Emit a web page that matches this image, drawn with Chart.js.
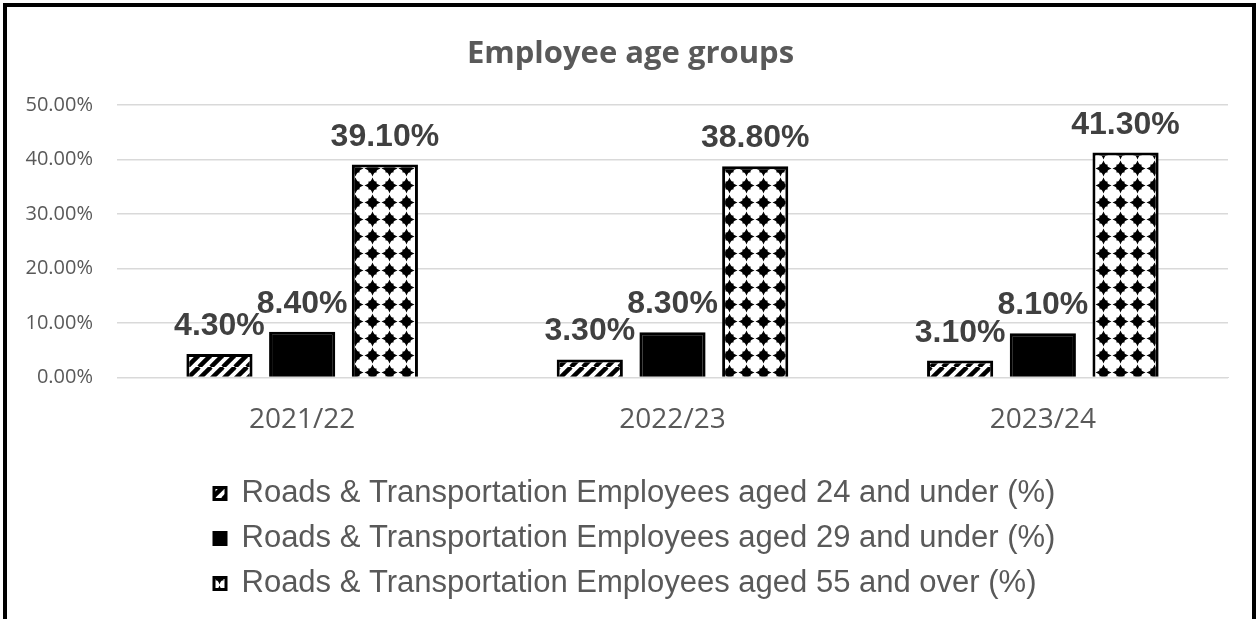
<!DOCTYPE html>
<html>
<head>
<meta charset="utf-8">
<script src="https://cdn.jsdelivr.net/npm/chart.js@4/dist/chart.umd.min.js"></script>
<style>
  body { margin: 0; background: #fff; }
  #frame {
    position: absolute; left: 3px; top: 3px;
    width: 1245px; height: 616px;
    border: 4px solid #000; border-bottom: none;
  }
  #wrap { position: relative; width: 1245px; height: 612px; }
</style>
</head>
<body>
<div id="frame"><div id="wrap"><canvas id="ageChart"></canvas></div></div>
<script>
const years = ['2021/22', '2022/23', '2023/24'];
const seriesNames = [
    'Roads & Transportation Employees aged 24 and under (%)',
    'Roads & Transportation Employees aged 29 and under (%)',
    'Roads & Transportation Employees aged 55 and over (%)'
];
const under24 = [4.3, 3.3, 3.1];
const under29 = [8.4, 8.3, 8.1];
const over55 = [39.1, 38.8, 41.3];
const yTicks = [0, 10, 20, 30, 40, 50];

// motifs de remplissage des barres
function stripePattern() {
    const c = document.createElement('canvas');
    c.width = 12; c.height = 12;
    const g = c.getContext('2d');
    g.fillStyle = '#fff';
    g.fillRect(0, 0, 12, 12);
    g.strokeStyle = '#000';
    g.lineWidth = 4.5;
    for (let x0 = -12; x0 <= 12; x0 += 12) {
        g.beginPath();
        g.moveTo(x0, 12);
        g.lineTo(x0 + 12, 0);
        g.stroke();
    }
    return g.createPattern(c, 'repeat');
}

function diamondPattern() {
    const p = 17, m = p / 2, r = 8, k = 2;
    const c = document.createElement('canvas');
    c.width = p; c.height = p;
    const g = c.getContext('2d');
    g.fillStyle = '#fff';
    g.fillRect(0, 0, p, p);
    g.fillStyle = '#000';
    g.beginPath();
    g.moveTo(m, m - r);
    g.quadraticCurveTo(m + k, m - k, m + r, m);
    g.quadraticCurveTo(m + k, m + k, m, m + r);
    g.quadraticCurveTo(m - k, m + k, m - r, m);
    g.quadraticCurveTo(m - k, m - k, m, m - r);
    g.fill();
    g.fillRect(m - 4, m - 4, 8, 8);
    return g.createPattern(c, 'repeat');
}

const valueLabels = {
    id: 'valueLabels',
    afterDatasetsDraw(chart) {
        const ctx = chart.ctx;
        ctx.save();
        ctx.font = 'bold 32px "Liberation Sans", Arial, sans-serif';
        ctx.fillStyle = '#404040';
        ctx.textAlign = 'center';
        ctx.textBaseline = 'alphabetic';
        chart.data.datasets.forEach((ds, i) => {
            chart.getDatasetMeta(i).data.forEach((bar, j) => {
                ctx.fillText(ds.data[j].toFixed(2) + '%', bar.x, bar.y - 19);
            });
        });
        ctx.restore();
    }
};

// décaler titre et légende comme dans l'original
const boxShift = {
    id: 'boxShift',
    beforeDraw(chart) {
        if (chart.titleBlock) chart.titleBlock.left = 26;
        if (chart.legend) chart.legend.left = 193;
    }
};

const ctx = document.getElementById('ageChart').getContext('2d');
const series = [under24, under29, over55];
const fills = [stripePattern(), '#000', diamondPattern()];

new Chart(ctx, {
    type: 'bar',
    data: {
        labels: years,
        datasets: series.map((data, i) => ({
            label: seriesNames[i],
            data: data,
            backgroundColor: fills[i],
            borderColor: '#000',
            borderWidth: 3,
            categoryPercentage: 0.67,
            barPercentage: 0.8
        }))
    },
    options: {
        responsive: true,
        maintainAspectRatio: false,
        animation: false,
        layout: { padding: { left: 10, right: 24, top: 0, bottom: 10 } },
        scales: {
            x: {
                grid: { display: false },
                border: { color: '#d9d9d9' },
                ticks: {
                    color: '#595959',
                    font: { family: '"Open Sans"', size: 28 },
                    padding: 18
                },
                afterFit: axis => { axis.height += 9; }
            },
            y: {
                min: 0,
                max: 50,
                afterBuildTicks: axis => { axis.ticks = yTicks.map(v => ({ value: v })); },
                afterFit: axis => { axis.width = 100; },
                grid: { color: '#d9d9d9', lineWidth: 1.5, drawTicks: false },
                border: { display: false },
                ticks: {
                    color: '#595959',
                    font: { family: '"Open Sans"', size: 20 },
                    padding: 24,
                    callback: v => v.toFixed(2) + '%'
                }
            }
        },
        plugins: {
            title: {
                display: true,
                text: 'Employee age groups',
                color: '#595959',
                font: { family: '"Open Sans"', size: 31, weight: 'bold' },
                padding: { top: 29, bottom: 32 }
            },
            legend: {
                position: 'bottom',
                align: 'start',
                labels: {
                    color: '#595959',
                    font: { family: '"Liberation Sans", Arial, sans-serif', size: 31 },
                    boxWidth: 12,
                    boxHeight: 12,
                    padding: 14
                }
            },
            tooltip: { enabled: false }
        }
    },
    plugins: [valueLabels, boxShift]
});
</script>
</body>
</html>
